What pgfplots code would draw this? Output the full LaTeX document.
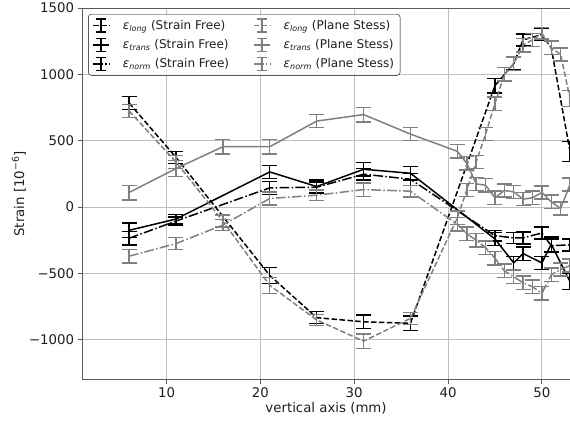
\documentclass[border=0pt]{standalone}
\usepackage{fontspec}
\setmainfont{DejaVu Sans}
\usepackage{pgfplots}
\pgfplotsset{compat=1.18}
\usepackage{pgfplotstable}

\definecolor{psgray}{RGB}{128,128,128}
\definecolor{gridc}{RGB}{190,190,190}
\definecolor{spinec}{RGB}{90,90,90}
\definecolor{txt}{RGB}{30,30,30}

% Strain free
\pgfplotstableread{
x y e
6 785 50
11 375 45
21 -515 60
26 -833 45
31 -864 50
36 -875 55
45 915 55
47 1080 45
48 1260 45
50 1300 45
51 1200 50
53 420 75
}\sflong
\pgfplotstableread{
x y e
6 -175 55
11 -90 35
21 265 50
26 155 50
31 285 50
36 255 50
45 -240 50
47 -420 50
48 -350 50
50 -420 50
51 -280 55
53 -560 60
}\sftrans
\pgfplotstableread{
x y e
6 -235 50
11 -105 30
21 145 50
26 150 40
31 248 45
36 210 45
45 -215 40
47 -232 40
48 -232 45
50 -195 45
51 -290 50
53 -285 45
}\sfnorm
% Plane stress
\pgfplotstableread{
x y e
6 725 50
11 340 50
16 -105 45
21 -590 60
26 -850 40
31 -1010 55
36 -838 45
41 -80 50
42 130 50
43 340 50
44 550 50
45 780 50
46 1000 50
47 1080 50
48 1220 50
49 1260 50
50 1310 45
51 1200 50
52 1150 50
53 820 60
}\pslong
\pgfplotstableread{
x y e
6 110 55
11 290 60
16 455 55
21 455 55
26 648 50
31 697 55
36 550 50
41 420 50
42 330 50
43 175 50
44 165 50
45 70 50
46 125 50
47 115 50
48 60 50
49 70 50
50 110 50
51 40 50
52 -10 50
53 170 50
}\pstrans
\pgfplotstableread{
x y e
6 -370 50
11 -275 45
16 -135 40
21 65 50
26 90 40
31 132 50
36 120 45
41 -130 50
42 -200 50
43 -250 50
44 -305 50
45 -385 50
46 -480 50
47 -525 50
48 -570 50
49 -600 50
50 -650 50
51 -510 50
52 -470 50
53 -440 50
}\psnorm

\begin{document}
\begin{tikzpicture}
\begin{axis}[
  name=ax,
  scale only axis,
  width=487pt, height=371pt,
  xmin=1, xmax=53, ymin=-1300, ymax=1500,
  xtick={10,20,30,40,50},
  xticklabels={10,20,30,40,50},
  ytick={-1000,-500,0,500,1000,1500},
  yticklabels={−1000,−500,0,500,1000,1500},
  tick align=outside,
  xtick pos=bottom, ytick pos=left,
  major tick length=4.5pt,
  tick style={spinec, line width=0.8pt},
  grid=major,
  grid style={gridc, line width=0.8pt},
  axis line style={draw=none},
  ticklabel style={font=\fontsize{13.3}{16}\selectfont, text=txt},
  xlabel={vertical axis (mm)},
  ylabel={Strain [10\textsuperscript{−6}]},
  label style={font=\fontsize{13.3}{16}\selectfont, text=txt},
  xlabel style={at={(axis description cs:0.5,0)}, anchor=center, yshift=-29pt},
  ylabel style={at={(axis description cs:-0.1294,0.5)}, anchor=center},
  legend columns=3,
  transpose legend,
  legend cell align=left,
  legend style={at={(rel axis cs:0,1)}, xshift=6pt, yshift=-6pt, anchor=north west,
    draw={RGB:red,204;green,204;blue,204}, rounded corners=3pt, fill=white, fill opacity=0.8, text opacity=1,
    font=\fontsize{12}{14.4}\selectfont, text=txt,
    inner xsep=4pt, inner ysep=4pt, row sep=4.6pt,
    /tikz/every odd column/.append style={column sep=11pt},
    /tikz/every even column/.append style={column sep=22pt}},
  legend image code/.code={
    \draw[#1] (0pt,0pt) -- (16pt,0pt);
    \draw[#1,solid] (8pt,-6.5pt) -- (8pt,6.5pt);
    \draw[#1,solid] (3pt,-6.5pt) -- (13pt,-6.5pt);
    \draw[#1,solid] (3pt,6.5pt) -- (13pt,6.5pt);
  },
  every axis plot/.append style={line width=1.5pt, no markers},
  error bars/y dir=both,
  error bars/y explicit,
  error bars/error mark options={mark size=7.5pt, line width=1.4pt, solid, rotate=90},
  error bars/error bar style={line width=1.4pt, solid},
]
\addplot[black, dash pattern=on 5.5pt off 2.4pt] table[x=x,y=y,y error=e]{\sflong};
\addlegendentry{\textit{ε}\textsubscript{\textit{long}} (Strain Free)}
\addplot[black, solid] table[x=x,y=y,y error=e]{\sftrans};
\addlegendentry{\textit{ε}\textsubscript{\textit{trans}} (Strain Free)}
\addplot[black, dash pattern=on 9.6pt off 2.4pt on 1.5pt off 2.4pt] table[x=x,y=y,y error=e]{\sfnorm};
\addlegendentry{\textit{ε}\textsubscript{\textit{norm}} (Strain Free)}
\addplot[psgray, dash pattern=on 5.5pt off 2.4pt] table[x=x,y=y,y error=e]{\pslong};
\addlegendentry{\textit{ε}\textsubscript{\textit{long}} (Plane Stess)}
\addplot[psgray, solid] table[x=x,y=y,y error=e]{\pstrans};
\addlegendentry{\textit{ε}\textsubscript{\textit{trans}} (Plane Stess)}
\addplot[psgray, dash pattern=on 9.6pt off 2.4pt on 1.5pt off 2.4pt] table[x=x,y=y,y error=e]{\psnorm};
\addlegendentry{\textit{ε}\textsubscript{\textit{norm}} (Plane Stess)}
\draw[spinec, line width=0.8pt] (rel axis cs:0,0) -- (rel axis cs:0,1) -- (rel axis cs:1,1);
\draw[spinec, line width=0.8pt] (rel axis cs:0,0) -- (rel axis cs:1,0);
\end{axis}
\pgfresetboundingbox
\path ([xshift=-82pt,yshift=-43pt]ax.south west) rectangle ([yshift=8pt]ax.north east);
\end{tikzpicture}
\end{document}
